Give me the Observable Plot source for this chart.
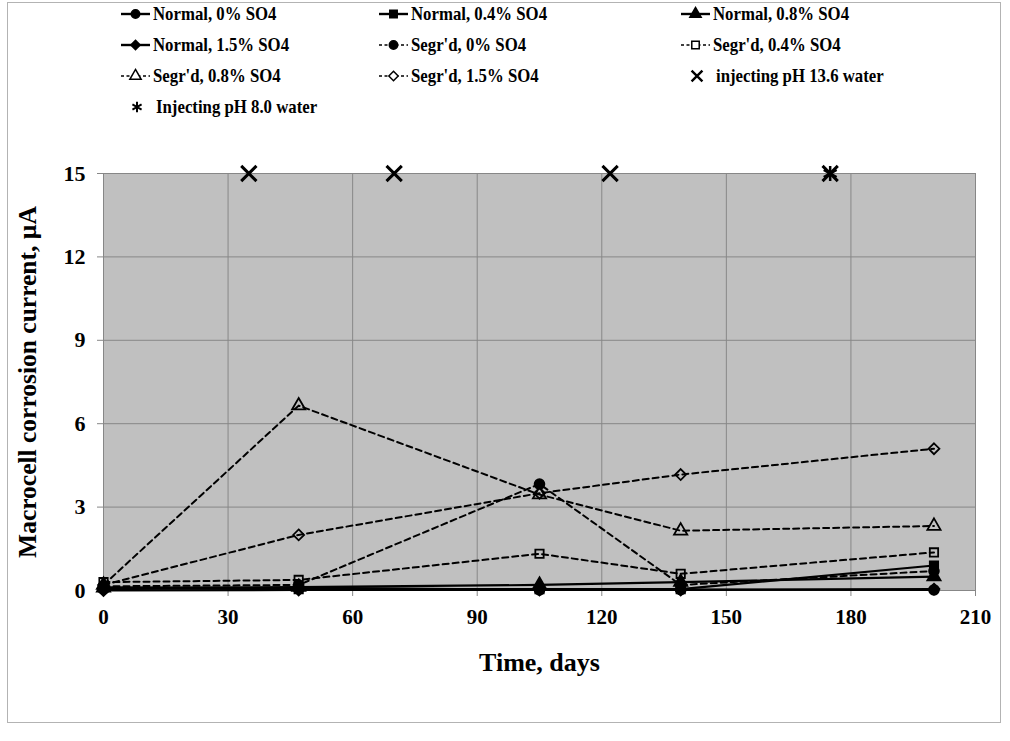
<!DOCTYPE html>
<html>
<head>
<meta charset="utf-8">
<script src="https://cdn.jsdelivr.net/npm/d3@7"></script>
<script src="https://cdn.jsdelivr.net/npm/@observablehq/plot@0.6"></script>
<style>
  body { margin: 0; background: #fff; }
  #root { position: relative; width: 1010px; height: 741px; font-family: 'Liberation Serif', 'Times New Roman', serif; font-weight: bold; }
  #border { position: absolute; left: 7px; top: 2px; width: 992px; height: 719px; border: 1px solid #b3b3b3; }
  #legend { position: absolute; left: 0; top: 0; width: 1010px; height: 130px; }
  .item { position: absolute; display: flex; align-items: center; font-size: 19.5px; white-space: nowrap; }
  .item svg { display: block; }
  .item span { display: inline-block; transform: scaleX(0.86); transform-origin: left center; }
  #chart { position: absolute; left: 0; top: 130px; }
</style>
</head>
<body>
<div id="root">
  <div id="border"></div>
  <div id="legend"></div>
  <div id="chart"></div>
</div>
<script>
// ---- data ----
const days = [0, 47, 105, 139, 200];
const normal0 = [0.05, 0.10, 0.02, 0.03, 0.02];
const normal04 = [0.10, 0.05, 0.05, 0.05, 0.90];
const normal08 = [0.10, 0.12, 0.20, 0.30, 0.50];
const normal15 = [0.00, 0.02, 0.02, 0.02, 0.05];
const segr0 = [0.15, 0.20, 3.83, 0.20, 0.70];
const segr04 = [0.30, 0.38, 1.32, 0.60, 1.37];
const segr08 = [0.20, 6.65, 3.45, 2.15, 2.32];
const segr15 = [0.20, 2.00, 3.50, 4.17, 5.10];
const seriesNames = ["Normal, 0% SO4", "Normal, 0.4% SO4", "Normal, 0.8% SO4", "Normal, 1.5% SO4",
  "Segr'd, 0% SO4", "Segr'd, 0.4% SO4", "Segr'd, 0.8% SO4", "Segr'd, 1.5% SO4"];
const seriesValues = [normal0, normal04, normal08, normal15, segr0, segr04, segr08, segr15];
const seriesSymbols = ["circle", "square", "triangle", "diamond2", "circle", "square", "triangle", "diamond2"];
const seriesFilled = [true, true, true, true, true, false, false, false];
const seriesDashed = [false, false, false, false, true, true, true, true];
const injection136Days = [35, 70, 122, 175];
const injection80Days = [175];
const injectionLevel = 15;
const injection136Label = "injecting pH 13.6 water";
const injection80Label = "Injecting pH 8.0 water";
const xTicks = [0, 30, 60, 90, 120, 150, 180, 210];
const yTicks = [0, 3, 6, 9, 12, 15];
const xLabel = "Time, days";
const yLabel = "Macrocell corrosion current, µA";

// ---- build table ----
const rows = [];
seriesNames.forEach((s, k) => days.forEach((d, i) => rows.push({series: s, day: d, value: seriesValues[k][i]})));
const inj136 = injection136Days.map(d => ({day: d, value: injectionLevel}));
const inj80 = injection80Days.map(d => ({day: d, value: injectionLevel}));

const symR = {circle: 4.9, square: 4.7, triangle: 4.9, diamond2: 4.9};

const marks = [
  Plot.frame({fill: "#c0c0c0", stroke: null}),
  Plot.gridX({ticks: xTicks, stroke: "#878787", strokeOpacity: 1, strokeWidth: 1}),
  Plot.gridY({ticks: yTicks, stroke: "#878787", strokeOpacity: 1, strokeWidth: 1}),
  Plot.frame({stroke: "#878787", strokeWidth: 1}),
  Plot.axisX({ticks: xTicks, tickSize: 6, tickPadding: 13, stroke: "#878787", fill: "black", fontSize: 21, label: null}),
  Plot.axisX({ticks: [], tickSize: 0, label: xLabel, labelAnchor: "center", labelArrow: "none", labelOffset: 80, fontSize: 26, fill: "black"}),
  Plot.axisY({ticks: yTicks, tickSize: 6, tickPadding: 12, stroke: "#878787", fill: "black", fontSize: 22, label: null}),
  Plot.axisY({ticks: [], tickSize: 0, label: yLabel, labelAnchor: "center", labelArrow: "none", labelOffset: 86, fontSize: 25.5, fill: "black"})
];
seriesNames.forEach((s, k) => {
  const sub = rows.filter(r => r.series === s);
  marks.push(Plot.line(sub, {x: "day", y: "value", stroke: "black", strokeWidth: seriesDashed[k] ? 2 : 2.2,
    strokeDasharray: seriesDashed[k] ? "6,4" : null}));
});
seriesNames.forEach((s, k) => {
  const sub = rows.filter(r => r.series === s);
  marks.push(Plot.dot(sub, {x: "day", y: "value", symbol: seriesSymbols[k], r: symR[seriesSymbols[k]],
    fill: seriesFilled[k] ? "black" : "none", stroke: "black", strokeWidth: 1.8}));
});
marks.push(Plot.dot(inj136, {x: "day", y: "value", symbol: "times", r: 7, stroke: "black", strokeWidth: 3}));
marks.push(Plot.dot(inj80, {x: "day", y: "value", symbol: "asterisk", r: 7, stroke: "black", strokeWidth: 2.5}));

const chart = Plot.plot({
  width: 1010,
  height: 611,
  marginTop: 43,
  marginBottom: 151,
  marginLeft: 103,
  marginRight: 35,
  x: {domain: [0, 210]},
  y: {domain: [0, 15]},
  style: {fontFamily: "'Liberation Serif', 'Times New Roman', serif", fontWeight: "bold", fontSize: "21px", color: "black", background: "transparent", overflow: "visible"},
  marks
});
document.getElementById("chart").appendChild(chart);

// ---- legend ----
const legend = d3.select("#legend");
const colX = [120, 378, 680];
const rowY = [14, 45, 76, 107];
const items = seriesNames.map((s, k) => ({label: s, sym: seriesSymbols[k], filled: seriesFilled[k], dashed: seriesDashed[k]}));
items.push({label: injection136Label, sym: "times", special: true});
items.push({label: injection80Label, sym: "asterisk", special: true});
const d3sym = {circle: d3.symbolCircle, square: d3.symbolSquare, triangle: d3.symbolTriangle, diamond2: d3.symbolDiamond2, times: d3.symbolTimes, asterisk: d3.symbolAsterisk};
items.forEach((it, i) => {
  const c = i % 3, r = Math.floor(i / 3);
  const div = legend.append("div").attr("class", "item")
    .style("left", colX[c] + "px").style("top", (rowY[r] - 12) + "px");
  const svg = div.append("svg").attr("width", it.special ? 32 : 31).attr("height", 24);
  if (!it.special) {
    svg.append("line").attr("x1", 1).attr("x2", 30).attr("y1", 12).attr("y2", 12)
      .attr("stroke", "black").attr("stroke-width", it.dashed ? 1.7 : 2.4)
      .attr("stroke-dasharray", it.dashed ? "3,2.5" : null);
    const rr = 4.2;
    svg.append("path").attr("transform", "translate(15.5,12)")
      .attr("d", d3.symbol(d3sym[it.sym], Math.PI * rr * rr)())
      .attr("fill", it.filled ? "black" : "#fff").attr("stroke", "black").attr("stroke-width", 1.5);
  } else {
    svg.append("path").attr("transform", "translate(17,12)")
      .attr("d", d3.symbol(d3sym[it.sym], Math.PI * 25)())
      .attr("fill", "none").attr("stroke", "black").attr("stroke-width", it.sym === "times" ? 2.4 : 2);
  }
  div.append("span").style("margin-left", it.special ? "4px" : "2px").text(it.label);
});
</script>
</body>
</html>
